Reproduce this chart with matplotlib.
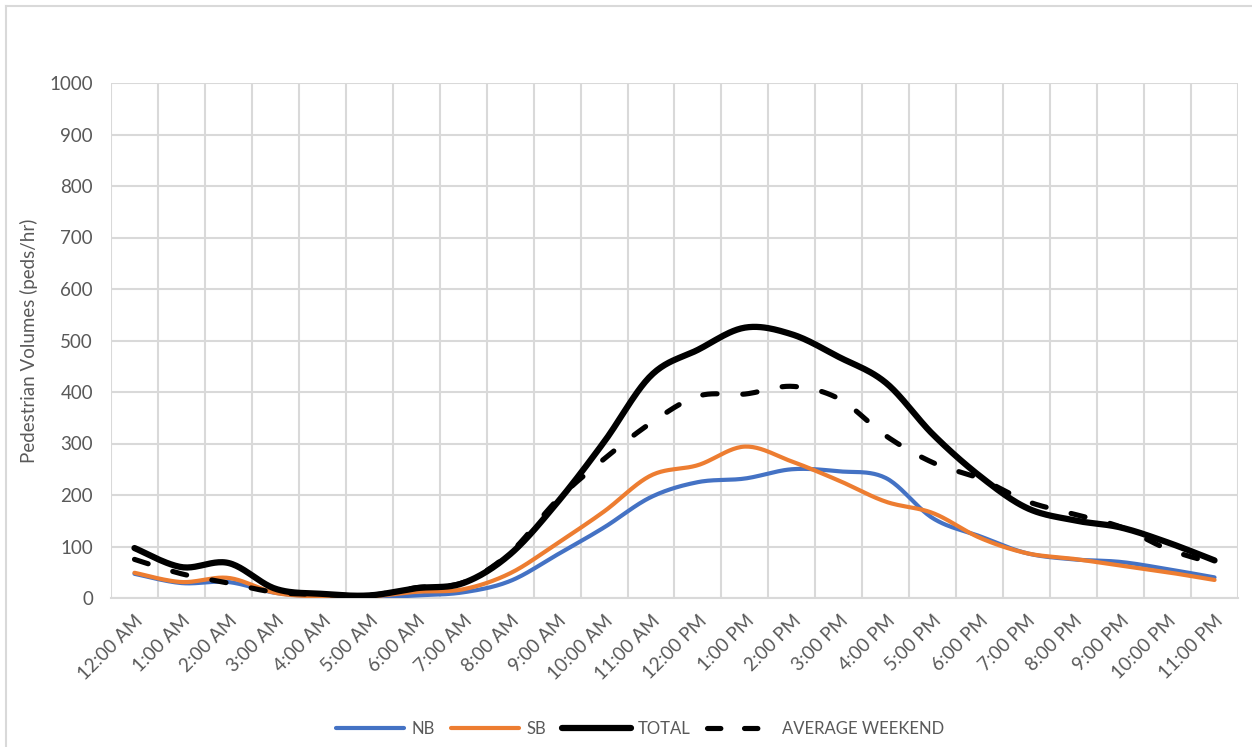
import numpy as np
import matplotlib
matplotlib.use("Agg")
import matplotlib.pyplot as plt
from matplotlib.lines import Line2D

# ---- data ----
hours = ["12:00 AM", "1:00 AM", "2:00 AM", "3:00 AM", "4:00 AM", "5:00 AM",
         "6:00 AM", "7:00 AM", "8:00 AM", "9:00 AM", "10:00 AM", "11:00 AM",
         "12:00 PM", "1:00 PM", "2:00 PM", "3:00 PM", "4:00 PM", "5:00 PM",
         "6:00 PM", "7:00 PM", "8:00 PM", "9:00 PM", "10:00 PM", "11:00 PM"]
nb = [47, 29, 31, 10, 3, 1, 5, 11, 33, 84, 137, 196, 225, 232, 250, 246,
      233, 155, 120, 87, 75, 70, 56, 40]
sb = [49, 31, 39, 10, 3, 3, 12, 17, 48, 106, 168, 238, 258, 294, 265, 228,
      187, 165, 117, 87, 76, 63, 50, 35]
total = [97, 60, 68, 18, 8, 5, 19, 29, 85, 185, 303, 432, 482, 525, 512, 468,
         418, 318, 237, 175, 151, 137, 108, 73]
avg_weekend = [75, 47, 29, 11, 7, 5, 20, 30, 88, 190, 270, 340, 392, 396, 411,
               387, 315, 263, 232, 188, 163, 138, 95, 67]
series_names = ["NB", "SB", "TOTAL", "AVERAGE WEEKEND"]


def smooth(values, n=24):
    """Excel-like smoothed line: cubic Bezier segments through the points."""
    y = np.asarray(values, float)
    x = np.arange(len(y), dtype=float)
    P = np.column_stack([x, y])
    P = np.vstack([P[0], P, P[-1]])
    segs = []
    m = len(P)
    for i in range(1, m - 2):
        p0, p1, p2, p3 = P[i - 1], P[i], P[i + 1], P[i + 2]
        c1 = p1 + (p2 - p0) / 6.0
        c2 = p2 - (p3 - p1) / 6.0
        t = np.linspace(0, 1, n, endpoint=(i == m - 3))[:, None]
        seg = ((1 - t) ** 3) * p1 + 3 * ((1 - t) ** 2) * t * c1 \
            + 3 * (1 - t) * (t ** 2) * c2 + (t ** 3) * p2
        segs.append(seg)
    s = np.vstack(segs)
    return s[:, 0], s[:, 1]


plt.rcParams["font.family"] = ["Lato", "DejaVu Sans"]
txt = "#595959"
grid = "#D9D9D9"

W, H = 1252, 747
fig = plt.figure(figsize=(W / 100, H / 100), dpi=100)
ax = fig.add_axes([111 / W, 1 - 598 / H, (1238 - 111) / W, (598 - 83) / H])

# outer chart border (left and top visible)
fig.add_artist(Line2D([6 / W, 6 / W], [0, 1 - 6 / H], color=grid, lw=1.5,
                      transform=fig.transFigure))
fig.add_artist(Line2D([6 / W, 1], [1 - 6 / H, 1 - 6 / H], color=grid, lw=1.5,
                      transform=fig.transFigure))

colors = ["#4472C4", "#ED7D31", "#000000", "#000000"]
x, y = smooth(nb)
ax.plot(x, y, color=colors[0], lw=3.0, solid_capstyle="round", zorder=3)
x, y = smooth(sb)
ax.plot(x, y, color=colors[1], lw=3.0, solid_capstyle="round", zorder=4)
x, y = smooth(total)
ax.plot(x, y, color=colors[2], lw=4.5, solid_capstyle="round", zorder=5)
x, y = smooth(avg_weekend)
ax.plot(x, y, color=colors[3], lw=3.7, dashes=(2.8, 5.0),
        dash_capstyle="round", zorder=6)

ax.set_xlim(-0.5, len(hours) - 0.5)
ax.set_ylim(0, 1000)
ax.set_yticks(np.arange(0, 1001, 100))
ax.set_xticks(np.arange(len(hours)))
ax.set_xticklabels(hours, rotation=45, ha="right", rotation_mode="anchor")
ax.set_xticks(np.arange(-0.5, len(hours)), minor=True)
ax.tick_params(axis="both", which="both", length=0, colors=txt, labelsize=13.5)
ax.tick_params(axis="x", pad=10)
ax.tick_params(axis="y", pad=13)
ax.grid(axis="y", which="major", color=grid, lw=1.5)
ax.grid(axis="x", which="minor", color=grid, lw=1.5)
ax.set_axisbelow(True)
for s in ["top", "right", "left"]:
    ax.spines[s].set_visible(False)
ax.spines["bottom"].set_color(grid)
ax.spines["bottom"].set_linewidth(1.5)

ax.set_ylabel("Pedestrian Volumes (peds/hr)", color=txt, fontsize=13.5,
              labelpad=8)

handles = [
    Line2D([], [], color=colors[0], lw=3.0, solid_capstyle="round"),
    Line2D([], [], color=colors[1], lw=3.0, solid_capstyle="round"),
    Line2D([], [], color=colors[2], lw=4.5, solid_capstyle="round"),
    Line2D([], [], color=colors[3], lw=3.7, dashes=(2.6, 4.6),
           dash_capstyle="round"),
]
leg = fig.legend(handles, series_names, loc="center", ncol=4,
                 bbox_to_anchor=(640 / W, 1 - 729 / H), frameon=False,
                 fontsize=12, handlelength=4.1, columnspacing=1.0,
                 handletextpad=0.4)
for t in leg.get_texts():
    t.set_color(txt)

fig.savefig("out.png", dpi=100, facecolor="white")
